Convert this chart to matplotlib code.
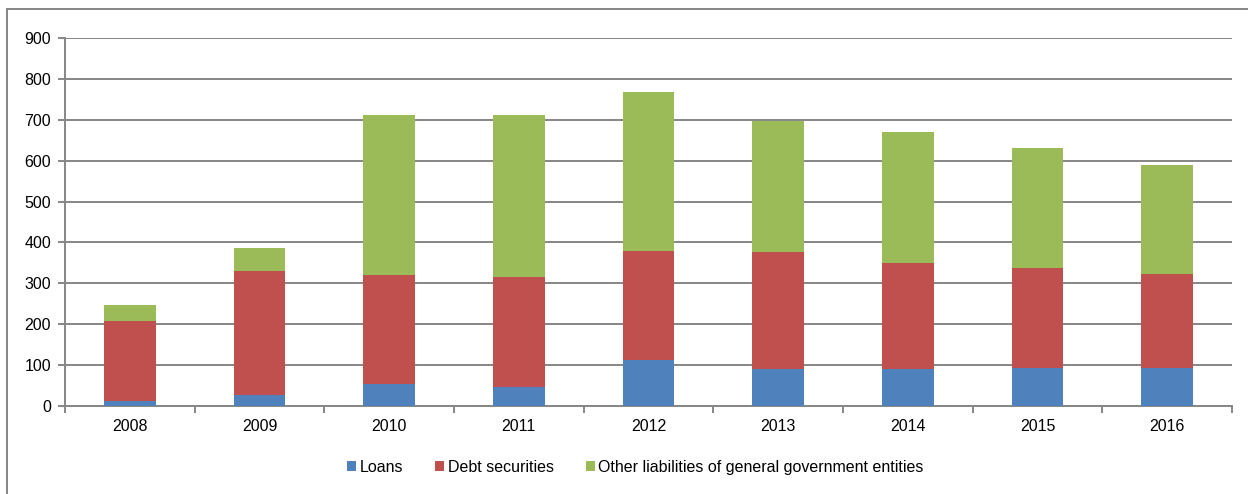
import matplotlib.pyplot as plt
from matplotlib.patches import Rectangle
import numpy as np

years = ["2008", "2009", "2010", "2011", "2012", "2013", "2014", "2015", "2016"]
loans = [12, 28, 53, 47, 113, 90, 90, 93, 93]
debt_securities = [196, 301, 268, 268, 267, 287, 260, 245, 229]
other_liabilities = [40, 57, 390, 397, 389, 319, 319, 292, 268]

GRID = "#868686"
plt.rcParams['font.family'] = ['Liberation Sans', 'DejaVu Sans']

fig = plt.figure(figsize=(12.48, 4.94), dpi=100)
ax = fig.add_axes([65 / 1248, 88 / 494, 1167 / 1248, 368 / 494])

x = np.arange(len(years))
w = 0.4
b1 = np.array(loans)
b2 = b1 + np.array(debt_securities)
ax.bar(x, loans, w, color="#4F81BD", label="Loans", zorder=3)
ax.bar(x, debt_securities, w, bottom=b1, color="#C0504D", label="Debt securities", zorder=3)
ax.bar(x, other_liabilities, w, bottom=b2, color="#9BBB59",
       label="Other liabilities of general government entities", zorder=3)

ax.set_xlim(-0.5, len(years) - 0.5)
ax.set_ylim(0, 900)
ax.set_yticks(range(0, 901, 100))
ax.yaxis.grid(True, color=GRID, linewidth=1.4, zorder=0)
ax.set_axisbelow(True)

ax.set_xticks(x)
ax.set_xticklabels(years)
ax.set_xticks(np.arange(-0.5, len(years), 1), minor=True)
ax.tick_params(axis="x", which="major", length=0, pad=9, labelsize=11.5)
ax.tick_params(axis="x", which="minor", length=5, color=GRID, width=1.4)
ax.tick_params(axis="y", length=5, color=GRID, width=1.4, labelsize=11.5, pad=5)

for s in ["top", "right"]:
    ax.spines[s].set_visible(False)
for s in ["left", "bottom"]:
    ax.spines[s].set_color(GRID)
    ax.spines[s].set_linewidth(1.4)

fig.legend(loc="center", bbox_to_anchor=(0.509, 27 / 494), ncol=3, frameon=False,
           fontsize=11.5, handlelength=0.6, handleheight=0.6, handletextpad=0.2,
           columnspacing=2.0)

border = Rectangle((7 / 1248, -0.05), 1.1, (494 - 9) / 494 + 0.05, transform=fig.transFigure,
                   fill=False, edgecolor=GRID, linewidth=1.4, clip_on=False)
fig.patches.append(border)

fig.savefig("out.png", dpi=100)
